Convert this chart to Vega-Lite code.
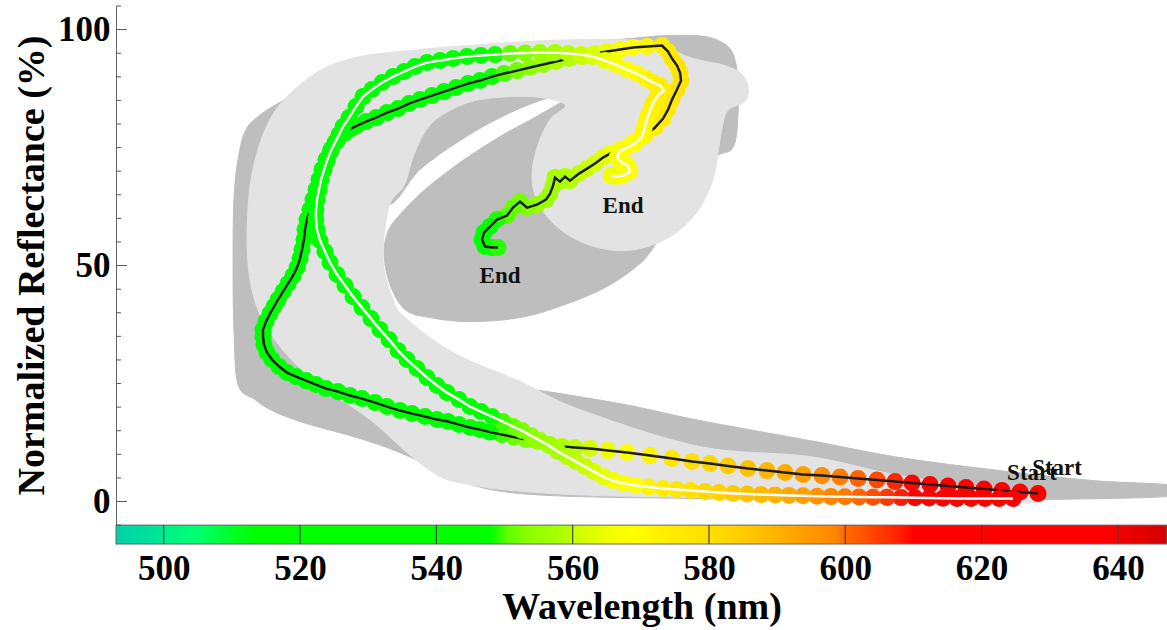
{
  "$schema": "https://vega.github.io/schema/vega-lite/v6.json",
  "autosize": {"type": "none"},
  "padding": {"left": 116, "top": 6, "right": 0, "bottom": 86},
  "width": 1051,
  "height": 538,
  "background": "white",
  "config": {"view": {"stroke": null}, "font": "Liberation Serif"},
  "datasets": {
    "traj": [
      {"t":"B","i":1,"wl":628.28,"r":1.68},{"t":"B","i":2,"wl":625.64,"r":2.00},{"t":"B","i":3,"wl":622.99,"r":2.32},{"t":"B","i":4,"wl":620.35,"r":2.63},{"t":"B","i":5,"wl":617.71,"r":2.95},{"t":"B","i":6,"wl":615.07,"r":3.27},{"t":"B","i":7,"wl":612.43,"r":3.59},{"t":"B","i":8,"wl":609.79,"r":3.91},{"t":"B","i":9,"wl":607.30,"r":4.22},{"t":"B","i":10,"wl":604.65,"r":4.54},
      {"t":"B","i":11,"wl":601.87,"r":4.86},{"t":"B","i":12,"wl":599.23,"r":5.18},{"t":"B","i":13,"wl":596.58,"r":5.49},{"t":"B","i":14,"wl":593.80,"r":5.71},{"t":"B","i":15,"wl":591.16,"r":6.13},{"t":"B","i":16,"wl":588.51,"r":6.55},{"t":"B","i":17,"wl":585.73,"r":6.98},{"t":"B","i":18,"wl":582.79,"r":7.51},{"t":"B","i":19,"wl":580.15,"r":8.04},{"t":"B","i":20,"wl":577.51,"r":8.46},
      {"t":"B","i":21,"wl":574.58,"r":9.10},{"t":"B","i":22,"wl":571.35,"r":9.73},{"t":"B","i":23,"wl":567.97,"r":10.37},{"t":"B","i":24,"wl":565.19,"r":10.79},{"t":"B","i":25,"wl":562.55,"r":11.22},{"t":"B","i":26,"wl":560.34,"r":11.43},{"t":"B","i":27,"wl":558.44,"r":11.64},{"t":"B","i":28,"wl":556.68,"r":12.06},{"t":"B","i":29,"wl":554.92,"r":12.70},{"t":"B","i":30,"wl":553.16,"r":13.12},
      {"t":"B","i":31,"wl":551.39,"r":13.65},{"t":"B","i":32,"wl":549.63,"r":14.18},{"t":"B","i":33,"wl":547.87,"r":14.71},{"t":"B","i":34,"wl":546.41,"r":15.24},{"t":"B","i":35,"wl":544.94,"r":15.67},{"t":"B","i":36,"wl":543.32,"r":16.30},{"t":"B","i":37,"wl":541.71,"r":16.94},{"t":"B","i":38,"wl":540.10,"r":17.36},{"t":"B","i":39,"wl":538.34,"r":18.00},{"t":"B","i":40,"wl":536.43,"r":18.63},
      {"t":"B","i":41,"wl":534.67,"r":19.27},{"t":"B","i":42,"wl":532.76,"r":20.12},{"t":"B","i":43,"wl":531.00,"r":20.96},{"t":"B","i":44,"wl":529.09,"r":21.81},{"t":"B","i":45,"wl":527.33,"r":22.45},{"t":"B","i":46,"wl":525.57,"r":23.29},{"t":"B","i":47,"wl":523.81,"r":23.93},{"t":"B","i":48,"wl":522.34,"r":24.78},{"t":"B","i":49,"wl":520.88,"r":25.62},{"t":"B","i":50,"wl":519.41,"r":26.47},
      {"t":"B","i":51,"wl":518.09,"r":27.32},{"t":"B","i":52,"wl":516.92,"r":28.59},{"t":"B","i":53,"wl":515.89,"r":30.08},{"t":"B","i":54,"wl":515.15,"r":31.56},{"t":"B","i":55,"wl":514.71,"r":33.25},{"t":"B","i":56,"wl":514.57,"r":34.95},{"t":"B","i":57,"wl":514.57,"r":36.43},{"t":"B","i":58,"wl":515.01,"r":38.13},{"t":"B","i":59,"wl":515.59,"r":39.82},{"t":"B","i":60,"wl":516.18,"r":41.31},
      {"t":"B","i":61,"wl":516.77,"r":42.79},{"t":"B","i":62,"wl":517.50,"r":44.48},{"t":"B","i":63,"wl":518.24,"r":46.18},{"t":"B","i":64,"wl":518.97,"r":47.87},{"t":"B","i":65,"wl":519.56,"r":49.57},{"t":"B","i":66,"wl":520.00,"r":51.48},{"t":"B","i":67,"wl":520.29,"r":53.38},{"t":"B","i":68,"wl":520.58,"r":55.50},{"t":"B","i":69,"wl":520.73,"r":57.62},{"t":"B","i":70,"wl":521.02,"r":59.74},
      {"t":"B","i":71,"wl":521.46,"r":61.86},{"t":"B","i":72,"wl":521.90,"r":63.98},{"t":"B","i":73,"wl":522.34,"r":66.10},{"t":"B","i":74,"wl":522.78,"r":68.22},{"t":"B","i":75,"wl":523.22,"r":70.34},{"t":"B","i":76,"wl":523.81,"r":72.45},{"t":"B","i":77,"wl":524.54,"r":74.57},{"t":"B","i":78,"wl":525.43,"r":76.48},{"t":"B","i":79,"wl":526.45,"r":77.96},{"t":"B","i":80,"wl":527.48,"r":79.02},
      {"t":"B","i":81,"wl":528.36,"r":79.66},{"t":"B","i":82,"wl":529.68,"r":80.51},{"t":"B","i":83,"wl":531.15,"r":81.35},{"t":"B","i":84,"wl":532.76,"r":82.41},{"t":"B","i":85,"wl":534.38,"r":83.26},{"t":"B","i":86,"wl":535.99,"r":84.32},{"t":"B","i":87,"wl":537.60,"r":85.17},{"t":"B","i":88,"wl":539.36,"r":86.02},{"t":"B","i":89,"wl":541.12,"r":86.86},{"t":"B","i":90,"wl":542.88,"r":87.71},
      {"t":"B","i":91,"wl":544.65,"r":88.56},{"t":"B","i":92,"wl":546.41,"r":89.20},{"t":"B","i":93,"wl":548.17,"r":90.04},{"t":"B","i":94,"wl":549.93,"r":90.68},{"t":"B","i":95,"wl":551.84,"r":91.31},{"t":"B","i":96,"wl":553.74,"r":91.95},{"t":"B","i":97,"wl":555.65,"r":92.59},{"t":"B","i":98,"wl":557.56,"r":93.22},{"t":"B","i":99,"wl":559.46,"r":93.86},{"t":"B","i":100,"wl":561.37,"r":94.28},
      {"t":"B","i":101,"wl":563.28,"r":94.92},{"t":"B","i":102,"wl":565.04,"r":95.34},{"t":"B","i":103,"wl":566.95,"r":95.76},{"t":"B","i":104,"wl":568.85,"r":96.19},{"t":"B","i":105,"wl":570.91,"r":96.40},{"t":"B","i":106,"wl":573.11,"r":96.61},{"t":"B","i":107,"wl":573.99,"r":95.34},{"t":"B","i":108,"wl":574.58,"r":93.86},{"t":"B","i":109,"wl":575.31,"r":92.37},{"t":"B","i":110,"wl":575.75,"r":90.89},
      {"t":"B","i":111,"wl":575.90,"r":89.20},{"t":"B","i":112,"wl":575.31,"r":87.29},{"t":"B","i":113,"wl":574.58,"r":85.17},{"t":"B","i":114,"wl":573.99,"r":83.05},{"t":"B","i":115,"wl":573.26,"r":81.14},{"t":"B","i":116,"wl":572.08,"r":79.24},{"t":"B","i":117,"wl":570.61,"r":77.54},{"t":"B","i":118,"wl":568.85,"r":76.06},{"t":"B","i":119,"wl":566.95,"r":74.57},{"t":"B","i":120,"wl":565.48,"r":73.73},
      {"t":"B","i":121,"wl":564.45,"r":72.88},{"t":"B","i":122,"wl":563.28,"r":71.61},{"t":"B","i":123,"wl":562.11,"r":70.55},{"t":"B","i":124,"wl":560.93,"r":69.49},{"t":"B","i":125,"wl":559.61,"r":68.00},{"t":"B","i":126,"wl":558.88,"r":68.85},{"t":"B","i":127,"wl":558.14,"r":67.79},{"t":"B","i":128,"wl":557.41,"r":68.64},{"t":"B","i":129,"wl":557.12,"r":66.94},{"t":"B","i":130,"wl":556.68,"r":65.25},
      {"t":"B","i":131,"wl":556.09,"r":63.98},{"t":"B","i":132,"wl":554.77,"r":62.92},{"t":"B","i":133,"wl":553.30,"r":62.28},{"t":"B","i":134,"wl":552.28,"r":63.56},{"t":"B","i":135,"wl":551.25,"r":62.28},{"t":"B","i":136,"wl":550.37,"r":60.59},{"t":"B","i":137,"wl":548.90,"r":59.74},{"t":"B","i":138,"wl":547.87,"r":58.26},{"t":"B","i":139,"wl":546.99,"r":56.99},{"t":"B","i":140,"wl":546.70,"r":55.50},
      {"t":"B","i":141,"wl":547.14,"r":54.02},{"t":"B","i":142,"wl":548.17,"r":53.81},{"t":"B","i":143,"wl":549.05,"r":53.81},
      {"t":"W","i":1,"wl":624.61,"r":0.62},{"t":"W","i":2,"wl":622.55,"r":0.62},{"t":"W","i":3,"wl":620.50,"r":0.62},{"t":"W","i":4,"wl":618.45,"r":0.62},{"t":"W","i":5,"wl":616.39,"r":0.66},{"t":"W","i":6,"wl":614.34,"r":0.71},{"t":"W","i":7,"wl":612.28,"r":0.75},{"t":"W","i":8,"wl":610.23,"r":0.79},{"t":"W","i":9,"wl":608.18,"r":0.83},{"t":"W","i":10,"wl":606.12,"r":0.88},
      {"t":"W","i":11,"wl":604.07,"r":0.92},{"t":"W","i":12,"wl":602.01,"r":0.96},{"t":"W","i":13,"wl":599.96,"r":1.00},{"t":"W","i":14,"wl":597.90,"r":1.04},{"t":"W","i":15,"wl":595.85,"r":1.13},{"t":"W","i":16,"wl":593.80,"r":1.21},{"t":"W","i":17,"wl":591.74,"r":1.30},{"t":"W","i":18,"wl":589.69,"r":1.38},{"t":"W","i":19,"wl":587.63,"r":1.47},{"t":"W","i":20,"wl":585.58,"r":1.60},
      {"t":"W","i":21,"wl":583.53,"r":1.72},{"t":"W","i":22,"wl":581.47,"r":1.89},{"t":"W","i":23,"wl":579.42,"r":2.10},{"t":"W","i":24,"wl":577.36,"r":2.32},{"t":"W","i":25,"wl":575.31,"r":2.53},{"t":"W","i":26,"wl":573.26,"r":2.74},{"t":"W","i":27,"wl":571.20,"r":3.06},{"t":"W","i":28,"wl":569.29,"r":3.38},{"t":"W","i":29,"wl":567.53,"r":3.80},{"t":"W","i":30,"wl":565.92,"r":4.44},
      {"t":"W","i":31,"wl":564.45,"r":5.28},{"t":"W","i":32,"wl":563.13,"r":6.34},{"t":"W","i":33,"wl":561.81,"r":7.40},{"t":"W","i":34,"wl":560.49,"r":8.46},{"t":"W","i":35,"wl":559.17,"r":9.52},{"t":"W","i":36,"wl":557.85,"r":10.58},{"t":"W","i":37,"wl":556.53,"r":11.85},{"t":"W","i":38,"wl":555.21,"r":12.91},{"t":"W","i":39,"wl":553.89,"r":13.97},{"t":"W","i":40,"wl":552.57,"r":15.03},
      {"t":"W","i":41,"wl":551.25,"r":15.88},{"t":"W","i":42,"wl":549.78,"r":16.94},{"t":"W","i":43,"wl":548.17,"r":18.00},{"t":"W","i":44,"wl":546.55,"r":19.06},{"t":"W","i":45,"wl":544.94,"r":20.12},{"t":"W","i":46,"wl":543.32,"r":21.60},{"t":"W","i":47,"wl":541.56,"r":23.08},{"t":"W","i":48,"wl":540.10,"r":24.57},{"t":"W","i":49,"wl":538.63,"r":26.26},{"t":"W","i":50,"wl":537.16,"r":28.17},
      {"t":"W","i":51,"wl":535.70,"r":30.08},{"t":"W","i":52,"wl":534.38,"r":31.98},{"t":"W","i":53,"wl":533.06,"r":34.31},{"t":"W","i":54,"wl":531.73,"r":36.43},{"t":"W","i":55,"wl":530.41,"r":38.76},{"t":"W","i":56,"wl":529.09,"r":41.09},{"t":"W","i":57,"wl":527.77,"r":43.42},{"t":"W","i":58,"wl":526.60,"r":45.76},{"t":"W","i":59,"wl":525.43,"r":48.09},{"t":"W","i":60,"wl":524.40,"r":50.63},
      {"t":"W","i":61,"wl":523.66,"r":52.96},{"t":"W","i":62,"wl":522.93,"r":55.29},{"t":"W","i":63,"wl":522.49,"r":57.62},{"t":"W","i":64,"wl":522.34,"r":59.74},{"t":"W","i":65,"wl":522.34,"r":61.86},{"t":"W","i":66,"wl":522.49,"r":63.98},{"t":"W","i":67,"wl":522.78,"r":66.10},{"t":"W","i":68,"wl":523.08,"r":68.22},{"t":"W","i":69,"wl":523.52,"r":70.34},{"t":"W","i":70,"wl":523.96,"r":72.24},
      {"t":"W","i":71,"wl":524.40,"r":73.94},{"t":"W","i":72,"wl":525.13,"r":76.06},{"t":"W","i":73,"wl":525.72,"r":77.75},{"t":"W","i":74,"wl":526.31,"r":79.45},{"t":"W","i":75,"wl":527.19,"r":81.35},{"t":"W","i":76,"wl":528.21,"r":83.68},{"t":"W","i":77,"wl":529.24,"r":85.80},{"t":"W","i":78,"wl":530.56,"r":87.29},{"t":"W","i":79,"wl":532.03,"r":88.77},{"t":"W","i":80,"wl":533.64,"r":90.04},
      {"t":"W","i":81,"wl":535.26,"r":91.10},{"t":"W","i":82,"wl":536.87,"r":92.16},{"t":"W","i":83,"wl":538.63,"r":93.01},{"t":"W","i":84,"wl":540.54,"r":93.43},{"t":"W","i":85,"wl":542.44,"r":93.86},{"t":"W","i":86,"wl":544.50,"r":94.28},{"t":"W","i":87,"wl":546.55,"r":94.49},{"t":"W","i":88,"wl":548.61,"r":94.70},{"t":"W","i":89,"wl":550.81,"r":94.92},{"t":"W","i":90,"wl":553.01,"r":95.02},
      {"t":"W","i":91,"wl":555.21,"r":95.13},{"t":"W","i":92,"wl":557.41,"r":95.13},{"t":"W","i":93,"wl":559.32,"r":94.92},{"t":"W","i":94,"wl":561.22,"r":94.70},{"t":"W","i":95,"wl":562.99,"r":94.28},{"t":"W","i":96,"wl":564.75,"r":93.43},{"t":"W","i":97,"wl":566.36,"r":92.59},{"t":"W","i":98,"wl":567.97,"r":91.53},{"t":"W","i":99,"wl":569.44,"r":90.68},{"t":"W","i":100,"wl":570.76,"r":89.62},
      {"t":"W","i":101,"wl":571.79,"r":88.77},{"t":"W","i":102,"wl":572.82,"r":88.14},{"t":"W","i":103,"wl":573.40,"r":87.08},{"t":"W","i":104,"wl":572.52,"r":86.02},{"t":"W","i":105,"wl":571.94,"r":84.74},{"t":"W","i":106,"wl":571.50,"r":83.26},{"t":"W","i":107,"wl":571.06,"r":81.78},{"t":"W","i":108,"wl":570.76,"r":80.30},{"t":"W","i":109,"wl":570.47,"r":78.81},{"t":"W","i":110,"wl":570.17,"r":77.33},
      {"t":"W","i":111,"wl":569.15,"r":75.85},{"t":"W","i":112,"wl":567.97,"r":75.00},{"t":"W","i":113,"wl":566.95,"r":74.36},{"t":"W","i":114,"wl":566.51,"r":72.88},{"t":"W","i":115,"wl":567.24,"r":71.82},{"t":"W","i":116,"wl":568.12,"r":71.18},{"t":"W","i":117,"wl":568.41,"r":69.91},{"t":"W","i":118,"wl":567.39,"r":69.06},{"t":"W","i":119,"wl":566.36,"r":68.85},{"t":"W","i":120,"wl":565.63,"r":69.06}
    ],
    "poly": [
      {"p":"D","o":1,"wl":560.64,"r":86.86},{"p":"D","o":2,"wl":555.21,"r":81.99},{"p":"D","o":3,"wl":549.34,"r":77.33},{"p":"D","o":4,"wl":543.47,"r":71.82},{"p":"D","o":5,"wl":538.34,"r":66.10},{"p":"D","o":6,"wl":534.67,"r":60.80},{"p":"D","o":7,"wl":532.91,"r":57.20},{"p":"D","o":8,"wl":532.32,"r":52.32},{"p":"D","o":9,"wl":533.20,"r":45.97},{"p":"D","o":10,"wl":535.40,"r":40.67},
      {"p":"D","o":11,"wl":539.07,"r":38.97},{"p":"D","o":12,"wl":544.94,"r":38.13},{"p":"D","o":13,"wl":552.28,"r":38.97},{"p":"D","o":14,"wl":558.88,"r":41.73},{"p":"D","o":15,"wl":564.75,"r":45.33},{"p":"D","o":16,"wl":569.15,"r":49.57},{"p":"D","o":17,"wl":571.64,"r":53.38},{"p":"D","o":18,"wl":575.75,"r":62.92},{"p":"D","o":19,"wl":580.45,"r":72.45},{"p":"D","o":20,"wl":583.53,"r":75.00},
      {"p":"D","o":21,"wl":584.26,"r":81.99},{"p":"D","o":22,"wl":584.26,"r":87.29},{"p":"D","o":23,"wl":583.97,"r":92.59},{"p":"D","o":24,"wl":582.79,"r":96.40},{"p":"D","o":25,"wl":579.42,"r":98.52},{"p":"D","o":26,"wl":573.55,"r":98.73},{"p":"D","o":27,"wl":568.41,"r":98.09},{"p":"D","o":28,"wl":558.14,"r":97.04},{"p":"D","o":29,"wl":546.41,"r":95.76},{"p":"D","o":30,"wl":537.60,"r":94.28},
      {"p":"D","o":31,"wl":528.80,"r":91.95},{"p":"D","o":32,"wl":522.93,"r":88.98},{"p":"D","o":33,"wl":517.80,"r":85.17},{"p":"D","o":34,"wl":514.42,"r":82.20},{"p":"D","o":35,"wl":512.07,"r":78.81},{"p":"D","o":36,"wl":510.90,"r":72.45},{"p":"D","o":37,"wl":510.31,"r":63.98},{"p":"D","o":38,"wl":510.17,"r":51.26},{"p":"D","o":39,"wl":510.31,"r":36.43},{"p":"D","o":40,"wl":510.90,"r":24.78},
      {"p":"D","o":41,"wl":513.39,"r":21.60},{"p":"D","o":42,"wl":515.89,"r":19.27},{"p":"D","o":43,"wl":520.44,"r":16.73},{"p":"D","o":44,"wl":527.33,"r":13.97},{"p":"D","o":45,"wl":532.76,"r":11.43},{"p":"D","o":46,"wl":537.60,"r":8.46},{"p":"D","o":47,"wl":541.27,"r":5.49},{"p":"D","o":48,"wl":552.28,"r":1.68},{"p":"D","o":49,"wl":578.68,"r":0.62},{"p":"D","o":50,"wl":608.03,"r":0.41},
      {"p":"D","o":51,"wl":628.57,"r":0.41},{"p":"D","o":52,"wl":647.20,"r":1.04},{"p":"D","o":53,"wl":649.84,"r":2.32},{"p":"D","o":54,"wl":647.20,"r":3.59},{"p":"D","o":55,"wl":636.35,"r":4.44},{"p":"D","o":56,"wl":622.70,"r":6.55},{"p":"D","o":57,"wl":608.03,"r":9.31},{"p":"D","o":58,"wl":594.82,"r":12.91},{"p":"D","o":59,"wl":578.68,"r":17.15},{"p":"D","o":60,"wl":568.41,"r":20.33},
      {"p":"D","o":61,"wl":558.14,"r":22.87},{"p":"D","o":62,"wl":551.25,"r":24.35},{"p":"D","o":63,"wl":544.94,"r":25.84},{"p":"D","o":64,"wl":537.60,"r":31.13},{"p":"D","o":65,"wl":530.27,"r":38.55},{"p":"D","o":66,"wl":526.60,"r":51.26},{"p":"D","o":67,"wl":526.60,"r":63.98},{"p":"D","o":68,"wl":529.53,"r":72.45},{"p":"D","o":69,"wl":532.91,"r":62.92},{"p":"D","o":70,"wl":537.60,"r":70.34},
      {"p":"D","o":71,"wl":543.47,"r":76.48},{"p":"D","o":72,"wl":549.34,"r":81.35},{"p":"D","o":73,"wl":555.21,"r":84.96},
      {"p":"L","o":1,"wl":627.10,"r":-0.23},{"p":"L","o":2,"wl":608.03,"r":0.20},{"p":"L","o":3,"wl":590.42,"r":0.62},{"p":"L","o":4,"wl":564.01,"r":1.26},{"p":"L","o":5,"wl":551.25,"r":2.32},{"p":"L","o":6,"wl":544.94,"r":3.59},{"p":"L","o":7,"wl":540.54,"r":5.28},{"p":"L","o":8,"wl":535.70,"r":10.37},{"p":"L","o":9,"wl":530.27,"r":17.36},{"p":"L","o":10,"wl":521.90,"r":25.84},
      {"p":"L","o":11,"wl":517.06,"r":32.83},{"p":"L","o":12,"wl":514.13,"r":39.61},{"p":"L","o":13,"wl":512.66,"r":47.03},{"p":"L","o":14,"wl":512.22,"r":56.14},{"p":"L","o":15,"wl":512.66,"r":66.73},{"p":"L","o":16,"wl":513.83,"r":74.57},{"p":"L","o":17,"wl":515.59,"r":80.93},{"p":"L","o":18,"wl":518.09,"r":85.80},{"p":"L","o":19,"wl":522.93,"r":91.31},{"p":"L","o":20,"wl":528.80,"r":94.28},
      {"p":"L","o":21,"wl":537.60,"r":95.76},{"p":"L","o":22,"wl":546.41,"r":96.82},{"p":"L","o":23,"wl":556.24,"r":97.67},{"p":"L","o":24,"wl":565.48,"r":97.88},{"p":"L","o":25,"wl":572.08,"r":97.25},{"p":"L","o":26,"wl":577.22,"r":94.07},{"p":"L","o":27,"wl":582.35,"r":92.37},{"p":"L","o":28,"wl":584.85,"r":90.47},{"p":"L","o":29,"wl":585.73,"r":87.71},{"p":"L","o":30,"wl":585.29,"r":84.74},
      {"p":"L","o":31,"wl":582.65,"r":82.63},{"p":"L","o":32,"wl":581.62,"r":76.69},{"p":"L","o":33,"wl":580.59,"r":68.22},{"p":"L","o":34,"wl":577.95,"r":60.80},{"p":"L","o":35,"wl":573.55,"r":55.50},{"p":"L","o":36,"wl":567.83,"r":53.17},{"p":"L","o":37,"wl":562.25,"r":54.44},{"p":"L","o":38,"wl":557.85,"r":58.05},{"p":"L","o":39,"wl":554.92,"r":63.34},{"p":"L","o":40,"wl":554.04,"r":69.28},
      {"p":"L","o":41,"wl":554.92,"r":75.63},{"p":"L","o":42,"wl":556.68,"r":80.93},{"p":"L","o":43,"wl":558.88,"r":84.11},{"p":"L","o":44,"wl":553.74,"r":85.80},{"p":"L","o":45,"wl":546.41,"r":85.17},{"p":"L","o":46,"wl":541.71,"r":82.63},{"p":"L","o":47,"wl":538.78,"r":79.24},{"p":"L","o":48,"wl":536.72,"r":73.51},{"p":"L","o":49,"wl":535.26,"r":66.94},{"p":"L","o":50,"wl":533.06,"r":62.50},
      {"p":"L","o":51,"wl":532.17,"r":51.26},{"p":"L","o":52,"wl":533.64,"r":42.79},{"p":"L","o":53,"wl":535.40,"r":38.97},{"p":"L","o":54,"wl":542.44,"r":31.56},{"p":"L","o":55,"wl":552.28,"r":25.41},{"p":"L","o":56,"wl":561.08,"r":19.48},{"p":"L","o":57,"wl":578.68,"r":11.64},{"p":"L","o":58,"wl":594.82,"r":9.52},{"p":"L","o":59,"wl":608.03,"r":5.49},{"p":"L","o":60,"wl":624.61,"r":2.10},
      {"p":"L","o":61,"wl":627.84,"r":0.83}
    ],
    "cbar": [{"wl": 493, "wl2": 647.2}],
    "cticks": [{"wl": 500}, {"wl": 520}, {"wl": 540}, {"wl": 560}, {"wl": 580}, {"wl": 600}, {"wl": 620}, {"wl": 640}],
    "ymajor": [{"r": 0}, {"r": 50}, {"r": 100}],
    "yminor": [{"r": -5}, {"r": 5}, {"r": 10}, {"r": 15}, {"r": 20}, {"r": 25}, {"r": 30}, {"r": 35}, {"r": 40}, {"r": 45}, {"r": 55}, {"r": 60}, {"r": 65}, {"r": 70}, {"r": 75}, {"r": 80}, {"r": 85}, {"r": 90}, {"r": 95}, {"r": 105}],
    "ann": [
      {"label": "Start", "t": "B", "wl": 628.28, "r": 1.68},
      {"label": "Start", "t": "W", "wl": 624.61, "r": 0.62},
      {"label": "End", "t": "B", "wl": 549.05, "r": 53.81},
      {"label": "End", "t": "W", "wl": 565.63, "r": 69.06}
    ]
  },
  "layer": [
    {
      "data": {"name": "poly"},
      "transform": [{"filter": "datum.p === 'D'"}],
      "mark": {"type": "line", "interpolate": "cardinal-closed", "fill": "#bebebe", "stroke": "#bebebe", "strokeWidth": 1},
      "encoding": {
        "x": {
          "field": "wl", "type": "quantitative",
          "scale": {"domain": [493, 647.2], "nice": false, "zero": false},
          "axis": {
            "title": "Wavelength (nm)", "values": [500, 520, 540, 560, 580, 600, 620, 640],
            "grid": false, "ticks": false, "domain": false,
            "labelFont": "Liberation Serif", "labelFontWeight": "bold", "labelFontSize": 35, "labelColor": "#000",
            "labelPadding": 7,
            "titleFont": "Liberation Serif", "titleFontWeight": "bold", "titleFontSize": 38, "titleColor": "#000",
            "titleBaseline": "alphabetic", "titleY": 74
          }
        },
        "y": {
          "field": "r", "type": "quantitative",
          "scale": {"domain": [-9, 105], "nice": false, "zero": false},
          "axis": {
            "title": "Normalized Reflectance (%)", "values": [0, 50, 100],
            "grid": false, "ticks": false, "domain": true, "domainColor": "#666", "domainWidth": 1,
            "labelFont": "Liberation Serif", "labelFontWeight": "bold", "labelFontSize": 35, "labelColor": "#000",
            "labelPadding": 6,
            "titleFont": "Liberation Serif", "titleFontWeight": "bold", "titleFontSize": 38, "titleColor": "#000",
            "titleAngle": -90, "titleBaseline": "alphabetic", "titleAlign": "center", "titleX": -73, "titleY": 259
          }
        },
        "order": {"field": "o", "type": "quantitative"}
      }
    },
    {
      "data": {"name": "poly"},
      "transform": [{"filter": "datum.p === 'L'"}],
      "mark": {"type": "line", "interpolate": "cardinal-closed", "fill": "#e3e3e3", "stroke": "#e3e3e3", "strokeWidth": 1},
      "encoding": {
        "x": {"field": "wl", "type": "quantitative"},
        "y": {"field": "r", "type": "quantitative"},
        "order": {"field": "o", "type": "quantitative"}
      }
    },
    {
      "data": {"name": "traj"},
      "transform": [{"filter": "datum.t === 'B'"}],
      "mark": {"type": "circle", "size": 290, "opacity": 1},
      "encoding": {
        "x": {"field": "wl", "type": "quantitative"},
        "y": {"field": "r", "type": "quantitative"},
        "color": {"field": "wl", "type": "quantitative", "legend": null,
          "scale": {"domain": [493, 500, 505, 511, 514, 548, 550.5, 554, 559.5, 566, 569, 572, 580, 585, 592, 600, 604, 609, 610, 640, 647.2],
                    "range": ["#00d2a8", "#00ec8e", "#00ff70", "#00ff18", "#00ff00", "#00ff00", "#60ff00", "#90ff00", "#b4ff00", "#f6ff00", "#ffff00", "#fff000", "#ffd800", "#ffc400", "#ffa800", "#ff7a00", "#ff5000", "#ff1400", "#ff0000", "#ff0000", "#d20000"],
                    "interpolate": "rgb"}}
      }
    },
    {
      "data": {"name": "traj"},
      "transform": [{"filter": "datum.t === 'B'"}],
      "mark": {"type": "line", "color": "#1c1c1c", "strokeWidth": 2.5},
      "encoding": {
        "x": {"field": "wl", "type": "quantitative"},
        "y": {"field": "r", "type": "quantitative"},
        "order": {"field": "i", "type": "quantitative"}
      }
    },
    {
      "data": {"name": "traj"},
      "transform": [{"filter": "datum.t === 'W'"}],
      "mark": {"type": "circle", "size": 290, "opacity": 1},
      "encoding": {
        "x": {"field": "wl", "type": "quantitative"},
        "y": {"field": "r", "type": "quantitative"},
        "color": {"field": "wl", "type": "quantitative", "legend": null}
      }
    },
    {
      "data": {"name": "traj"},
      "transform": [{"filter": "datum.t === 'W'"}],
      "mark": {"type": "line", "color": "#ffffff", "strokeWidth": 2.5},
      "encoding": {
        "x": {"field": "wl", "type": "quantitative"},
        "y": {"field": "r", "type": "quantitative"},
        "order": {"field": "i", "type": "quantitative"}
      }
    },
    {
      "data": {"name": "cbar"},
      "mark": {"type": "rect", "stroke": "#666", "strokeWidth": 1,
        "fill": {"gradient": "linear", "x1": 0, "x2": 1, "y1": 0, "y2": 0, "stops": [
          {"offset": 0, "color": "#00d2a8"}, {"offset": 0.0447, "color": "#00e696"}, {"offset": 0.046, "color": "#00f088"},
          {"offset": 0.0778, "color": "#00ff70"}, {"offset": 0.1167, "color": "#00ff18"}, {"offset": 0.1362, "color": "#00ff00"},
          {"offset": 0.3567, "color": "#00ff00"}, {"offset": 0.3729, "color": "#60ff00"}, {"offset": 0.3956, "color": "#90ff00"},
          {"offset": 0.4313, "color": "#b4ff00"}, {"offset": 0.4377, "color": "#ccff00"}, {"offset": 0.4734, "color": "#f6ff00"},
          {"offset": 0.4929, "color": "#ffff00"}, {"offset": 0.5123, "color": "#fff200"}, {"offset": 0.5642, "color": "#ffe000"},
          {"offset": 0.5966, "color": "#ffcc00"}, {"offset": 0.6394, "color": "#ffaa00"}, {"offset": 0.6855, "color": "#ff8400"},
          {"offset": 0.692, "color": "#ff6e00"}, {"offset": 0.7134, "color": "#ff5000"}, {"offset": 0.7523, "color": "#ff1400"},
          {"offset": 0.7588, "color": "#ff0000"}, {"offset": 0.9501, "color": "#ff0000"}, {"offset": 0.9565, "color": "#f20000"},
          {"offset": 1, "color": "#d20000"}]}},
      "encoding": {
        "x": {"field": "wl", "type": "quantitative"},
        "x2": {"field": "wl2"},
        "y": {"datum": -5, "type": "quantitative"},
        "y2": {"datum": -9}
      }
    },
    {
      "data": {"name": "cticks"},
      "mark": {"type": "rule", "color": "#444", "strokeWidth": 1.2},
      "encoding": {
        "x": {"field": "wl", "type": "quantitative"},
        "y": {"datum": -5, "type": "quantitative"},
        "y2": {"datum": -9}
      }
    },
    {
      "data": {"name": "ymajor"},
      "mark": {"type": "rule", "color": "#555", "strokeWidth": 1},
      "encoding": {
        "y": {"field": "r", "type": "quantitative"},
        "x": {"datum": 493, "type": "quantitative"},
        "x2": {"datum": 494.61}
      }
    },
    {
      "data": {"name": "yminor"},
      "mark": {"type": "rule", "color": "#555", "strokeWidth": 1},
      "encoding": {
        "y": {"field": "r", "type": "quantitative"},
        "x": {"datum": 493, "type": "quantitative"},
        "x2": {"datum": 493.73}
      }
    },
    {
      "data": {"name": "ann"},
      "transform": [{"filter": "datum.label === 'Start'"}],
      "mark": {"type": "text", "font": "Liberation Serif", "fontWeight": "bold", "fontSize": 23, "color": "#111", "align": "center", "baseline": "alphabetic", "dx": 19, "dy": -19},
      "encoding": {
        "x": {"field": "wl", "type": "quantitative"},
        "y": {"field": "r", "type": "quantitative"},
        "text": {"field": "label"}
      }
    },
    {
      "data": {"name": "ann"},
      "transform": [{"filter": "datum.label === 'End' && datum.t === 'B'"}],
      "mark": {"type": "text", "font": "Liberation Serif", "fontWeight": "bold", "fontSize": 23, "color": "#111", "align": "center", "baseline": "alphabetic", "dx": 2, "dy": 35},
      "encoding": {
        "x": {"field": "wl", "type": "quantitative"},
        "y": {"field": "r", "type": "quantitative"},
        "text": {"field": "label"}
      }
    },
    {
      "data": {"name": "ann"},
      "transform": [{"filter": "datum.label === 'End' && datum.t === 'W'"}],
      "mark": {"type": "text", "font": "Liberation Serif", "fontWeight": "bold", "fontSize": 23, "color": "#111", "align": "center", "baseline": "alphabetic", "dx": 12, "dy": 37},
      "encoding": {
        "x": {"field": "wl", "type": "quantitative"},
        "y": {"field": "r", "type": "quantitative"},
        "text": {"field": "label"}
      }
    }
  ]
}
